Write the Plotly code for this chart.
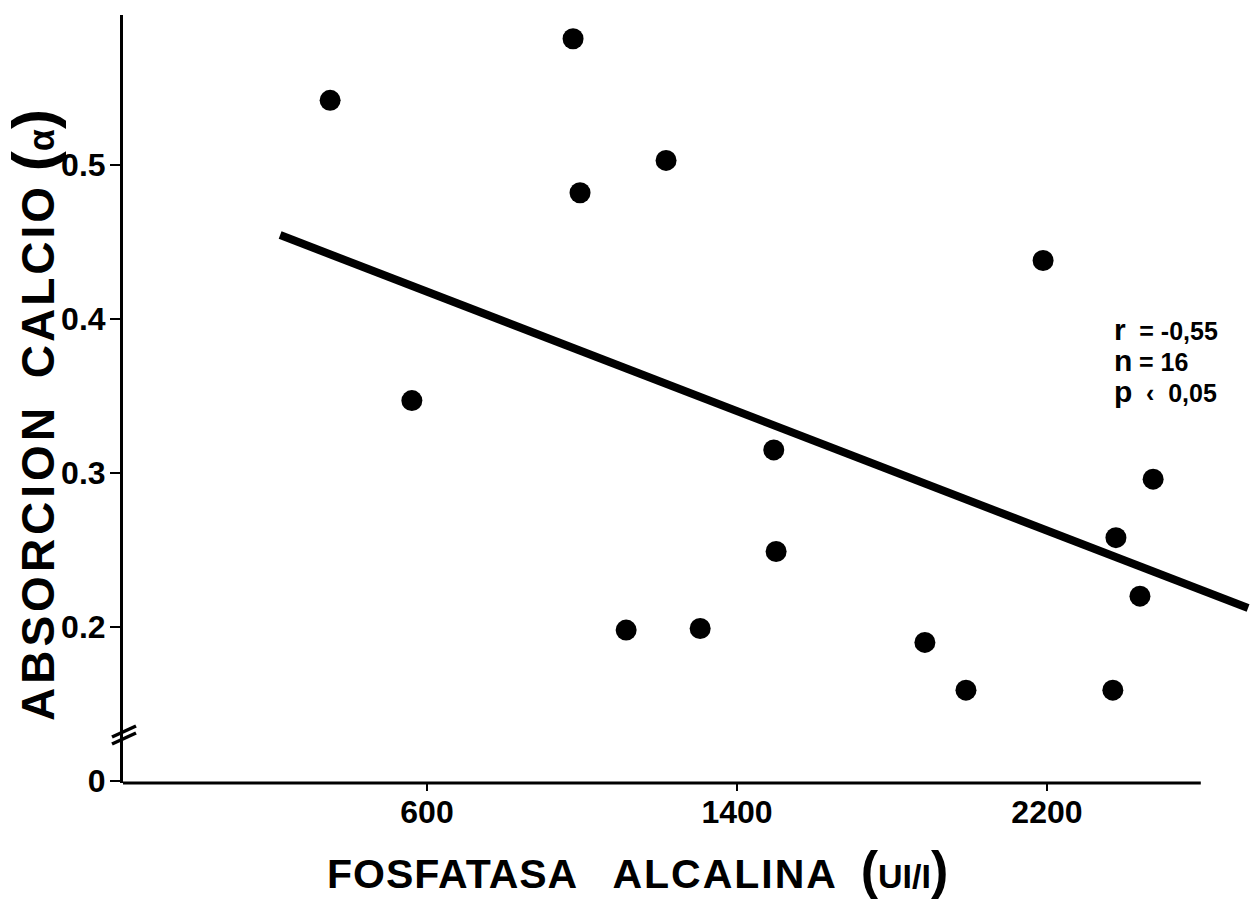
import plotly.graph_objects as go

# Data
fosfatasa = [350, 977, 995, 1217, 561, 1495, 1501, 1114, 1305, 1885, 1991, 2190, 2370, 2378, 2440, 2474]
absorcion = [0.542, 0.582, 0.482, 0.503, 0.347, 0.315, 0.249, 0.198, 0.199, 0.190, 0.159, 0.438, 0.159, 0.258, 0.220, 0.296]

reg_x = [221, 2719]
reg_y = [0.4545, 0.2123]

x_tickvals = [600, 1400, 2200]
x_ticktext = ["600", "1400", "2200"]
y_tickvals = [0.1, 0.2, 0.3, 0.4, 0.5]
y_ticktext = ["0", "0.2", "0.3", "0.4", "0.5"]

stats_lines = [("r", "\u00a0=\u00a0-0,55"), ("n", "= 16"), ("p", "\u00a0‹\u00a0 0,05")]

W, H = 1251, 904
L, R, T, B = 123, 1, 15, 121
pw, ph = W - L - R, H - T - B

X_MIN, X_MAX = -184.5, 2724
Y_MIN, Y_MAX = 0.0987, 0.5974
X_AXIS_END = 2597

def px(xp):
    return (xp - L) / pw

def py(yp):
    return (H - B - yp) / ph

FONT = "Liberation Sans, Arial, Helvetica, sans-serif"
tick_font = dict(family=FONT, size=32, color="black")

fig = go.Figure()
fig.add_trace(go.Scatter(x=reg_x, y=reg_y, mode="lines",
                         line=dict(color="black", width=8), hoverinfo="skip", showlegend=False))
fig.add_trace(go.Scatter(x=fosfatasa, y=absorcion, mode="markers",
                         marker=dict(color="black", size=21, line=dict(width=0)),
                         showlegend=False, cliponaxis=False))

# x axis line (stops before the right edge)
fig.add_shape(type="line", xref="x", yref="paper", x0=X_MIN, x1=X_AXIS_END, y0=0, y1=0,
              line=dict(color="black", width=3))
# axis break marks on y axis
for dy in (0, 7):
    fig.add_shape(type="line", xref="paper", yref="paper",
                  x0=px(112), y0=py(737 + dy), x1=px(136), y1=py(726 + dy),
                  line=dict(color="black", width=3.5))

annotations = []
# x title
annotations.append(dict(
    text="<b><span style='letter-spacing:1px'>FOSFATASA</span>\u00a0\u00a0\u00a0"
         "<span style='letter-spacing:2px'>ALCALINA</span>\u00a0\u00a0"
         "<span style='font-size:52px'>(</span>"
         "<span style='font-size:34px'>UI/I</span><span style='font-size:52px'>)</span></b>",
    xref="paper", yref="paper", x=px(637), y=py(870), xanchor="center", yanchor="middle",
    showarrow=False, font=dict(family=FONT, size=41, color="black")))
# y title
annotations.append(dict(
    text="<b><span style='letter-spacing:4px'>ABSORCION</span>\u00a0\u00a0"
         "<span style='letter-spacing:3px'>CALCIO</span>\u00a0<span style='font-size:60px'>(</span>"
         "<span style='font-size:36px'>α</span><span style='font-size:60px'>)</span></b>",
    xref="paper", yref="paper", x=px(34), y=py(415), xanchor="center", yanchor="middle",
    textangle=-90, showarrow=False,
    font=dict(family=FONT, size=46, color="black")))
# stats block (one annotation, line height set by base font)
stats_text = "<br>".join(
    f"<span style='font-size:30px'>{lead}</span> <span style='font-size:25px'>{rest}</span>"
    for lead, rest in stats_lines)
annotations.append(dict(
    text=f"<b>{stats_text}</b>",
    xref="paper", yref="paper", x=px(1112), y=py(360), xanchor="left", yanchor="middle",
    align="left", showarrow=False, font=dict(family=FONT, size=24, color="black")))

fig.update_layout(
    width=W, height=H,
    margin=dict(l=L, r=R, t=T, b=B, pad=0),
    paper_bgcolor="white", plot_bgcolor="white",
    showlegend=False,
    annotations=annotations,
    xaxis=dict(range=[X_MIN, X_MAX], showgrid=False, zeroline=False, showline=False,
               tickmode="array", tickvals=x_tickvals, ticktext=[f"<b>{t}</b>" for t in x_ticktext],
               ticks="outside", ticklen=7, tickwidth=2, tickcolor="black",
               ticklabelstandoff=-6, tickfont=tick_font),
    yaxis=dict(range=[Y_MIN, Y_MAX], showgrid=False, zeroline=False, showline=True,
               linecolor="black", linewidth=3,
               tickmode="array", tickvals=y_tickvals, ticktext=[f"<b>{t}</b>" for t in y_ticktext],
               ticks="outside", ticklen=10, tickwidth=2, tickcolor="black",
               ticklabelstandoff=-2, tickfont=tick_font),
)

fig.write_html("out.html")
